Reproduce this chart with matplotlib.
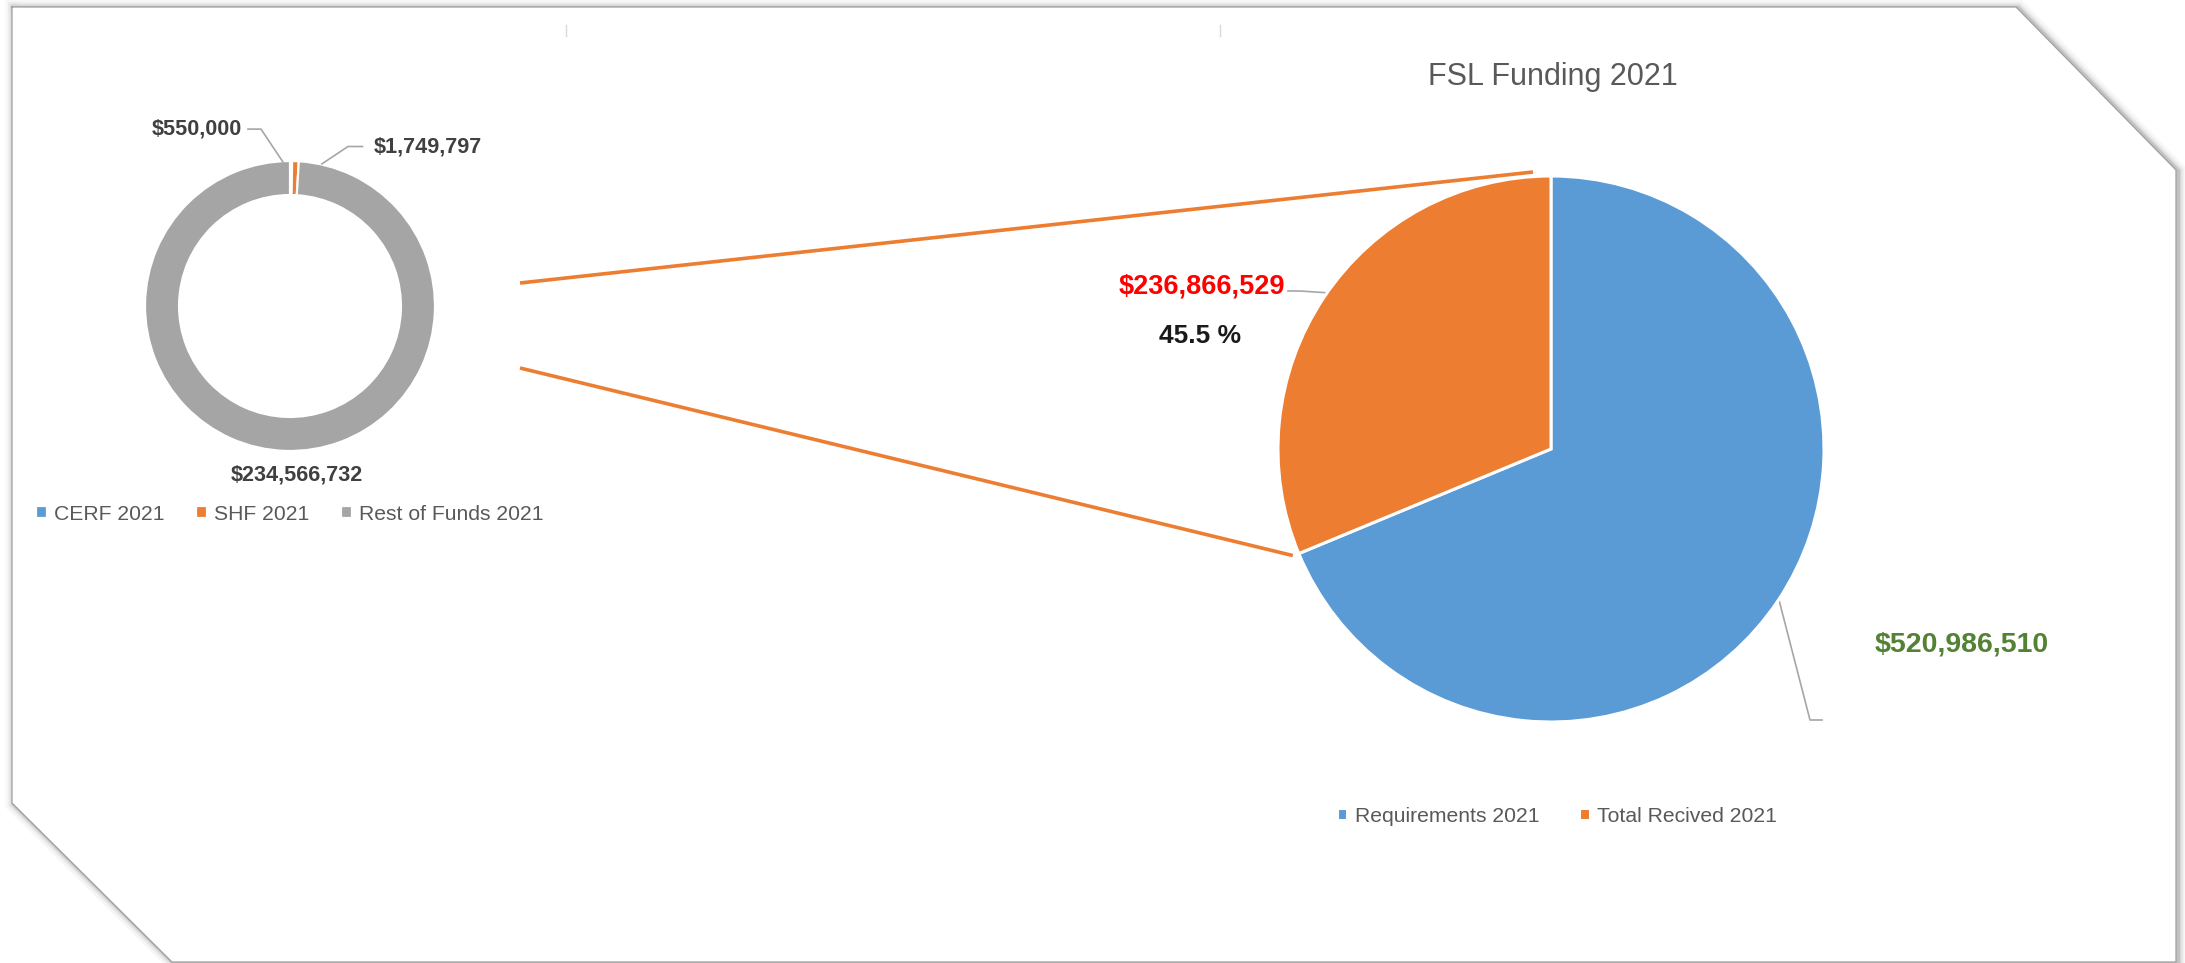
import matplotlib
matplotlib.use("Agg")
import matplotlib.pyplot as plt
import numpy as np
from matplotlib.patches import Polygon

plt.rcParams["font.family"] = ["Liberation Sans", "DejaVu Sans"]

W, H = 2185, 963

# --- data ---
donut_labels = ["CERF 2021", "SHF 2021", "Rest of Funds 2021"]
donut_values = [550000, 1749797, 234566732]
donut_colors = ["#5B9BD5", "#ED7D31", "#A5A5A5"]

pie_labels = ["Requirements 2021", "Total Recived 2021"]
pie_values = [520986510, 236866529]
pie_colors = ["#5B9BD5", "#ED7D31"]

title = "FSL Funding 2021"

fig = plt.figure(figsize=(W / 100, H / 100), dpi=100)
fig.patch.set_facecolor("white")

# overlay axes in pixel coords (y down)
bg = fig.add_axes([0, 0, 1, 1], zorder=0)
bg.set_xlim(0, W)
bg.set_ylim(H, 0)
bg.axis("off")

# chart border with soft shadow
border = [(12, 7), (2016, 7), (2176, 170), (2176, 962), (172, 962), (12, 803)]
xs = [p[0] for p in border] + [border[0][0]]
ys = [p[1] for p in border] + [border[0][1]]
for lw, a in [(12, 0.03), (8, 0.05), (5, 0.07), (3, 0.10)]:
    bg.plot(np.array(xs) + 2, np.array(ys) + 1, color="black", lw=lw, alpha=a,
            solid_joinstyle="miter", zorder=1)
bg.add_patch(Polygon(border, closed=True, facecolor="white", edgecolor="none", zorder=2))
bg.plot(xs, ys, color="#a0a0a0", lw=0.9, zorder=3)

# tiny tick marks at the top
for tx in (566, 1220):
    bg.plot([tx, tx], [25, 36], color="#d9d9d9", lw=1, zorder=3)


def px_axes(cx, cy, r):
    ax = fig.add_axes([(cx - r) / W, 1 - (cy + r) / H, 2 * r / W, 2 * r / H], zorder=5)
    ax.patch.set_alpha(0)
    return ax


# --- donut ---
dcx, dcy, dr = 290, 306, 145
axd = px_axes(dcx, dcy, dr)
dw, _ = axd.pie(donut_values, colors=donut_colors, startangle=90, counterclock=False,
                radius=1, wedgeprops=dict(width=0.235, edgecolor="white", linewidth=1.6))
axd.set_xlim(-1, 1)
axd.set_ylim(-1, 1)
axd.axis("off")

lab_kw = dict(fontsize=15.6, fontweight="bold", color="#404040", va="center")
lead_kw = dict(color="#a6a6a6", lw=1.2, clip_on=False)
# CERF
axd.text(-0.33, 1.22, f"${donut_values[0]:,}", ha="right", **lab_kw)
axd.plot([-0.29, -0.20, -0.05], [1.22, 1.22, 0.995], **lead_kw)
# SHF
axd.text(0.58, 1.10, f"${donut_values[1]:,}", ha="left", **lab_kw)
axd.plot([0.50, 0.40, 0.22], [1.10, 1.10, 0.98], **lead_kw)
# Rest
axd.text(0.05, -1.165, f"${donut_values[2]:,}", ha="center", **lab_kw)

leg_kw = dict(loc="center", frameon=False, fontsize=15.2, labelcolor="#595959",
              handlelength=0.5, handleheight=0.5, handletextpad=0.35, borderpad=0)
fig.legend(dw, donut_labels, bbox_to_anchor=(290 / W, 1 - 514 / H), ncol=3,
           columnspacing=1.5, **leg_kw)

# --- pie ---
pcx, pcy, pr = 1551, 449, 273
axp = px_axes(pcx, pcy, pr)
pw, _ = axp.pie(pie_values, colors=pie_colors, startangle=90, counterclock=False,
                radius=1, wedgeprops=dict(edgecolor="white", linewidth=2.2))
axp.set_xlim(-1, 1)
axp.set_ylim(-1, 1)
axp.axis("off")

bg.text(1553, 77, title, ha="center", va="center", fontsize=22, color="#595959")

pct = pie_values[1] / pie_values[0] * 100
bg.text(1202, 287, f"${pie_values[1]:,}", ha="center", va="center", fontsize=19.5,
        fontweight="bold", color="#FF0000", zorder=6)
bg.plot([1288, 1300, 1330], [291, 291, 293], color="#a6a6a6", lw=1.2, zorder=6)
bg.text(1200, 336, f"{pct:.1f} %", ha="center", va="center", fontsize=19,
        fontweight="bold", color="#1a1a1a", zorder=6)
bg.text(1962, 644, f"${pie_values[0]:,}", ha="center", va="center", fontsize=20.5,
        fontweight="bold", color="#548235", zorder=6)
bg.plot([1779, 1810, 1822], [600, 720, 720], color="#a6a6a6", lw=1.2, zorder=6)

fig.legend(pw, pie_labels, bbox_to_anchor=(1557 / W, 1 - 816 / H), ncol=2,
           columnspacing=1.9, **leg_kw)

# --- connector lines donut -> pie ---
th = np.deg2rad(pw[0].theta1)
low_end = (pcx + pr * np.cos(th), pcy - pr * np.sin(th))
top_end = (pcx - 18, pcy - pr - 4)
bg.plot([dcx + 230, top_end[0]], [dcy - 23, top_end[1]], color="#ED7D31", lw=2.6,
        solid_capstyle="butt", zorder=4)
bg.plot([dcx + 230, low_end[0] - 6], [dcy + 62, low_end[1] + 2], color="#ED7D31", lw=2.6,
        solid_capstyle="butt", zorder=4)

fig.savefig("out.png", dpi=100, facecolor="white")
